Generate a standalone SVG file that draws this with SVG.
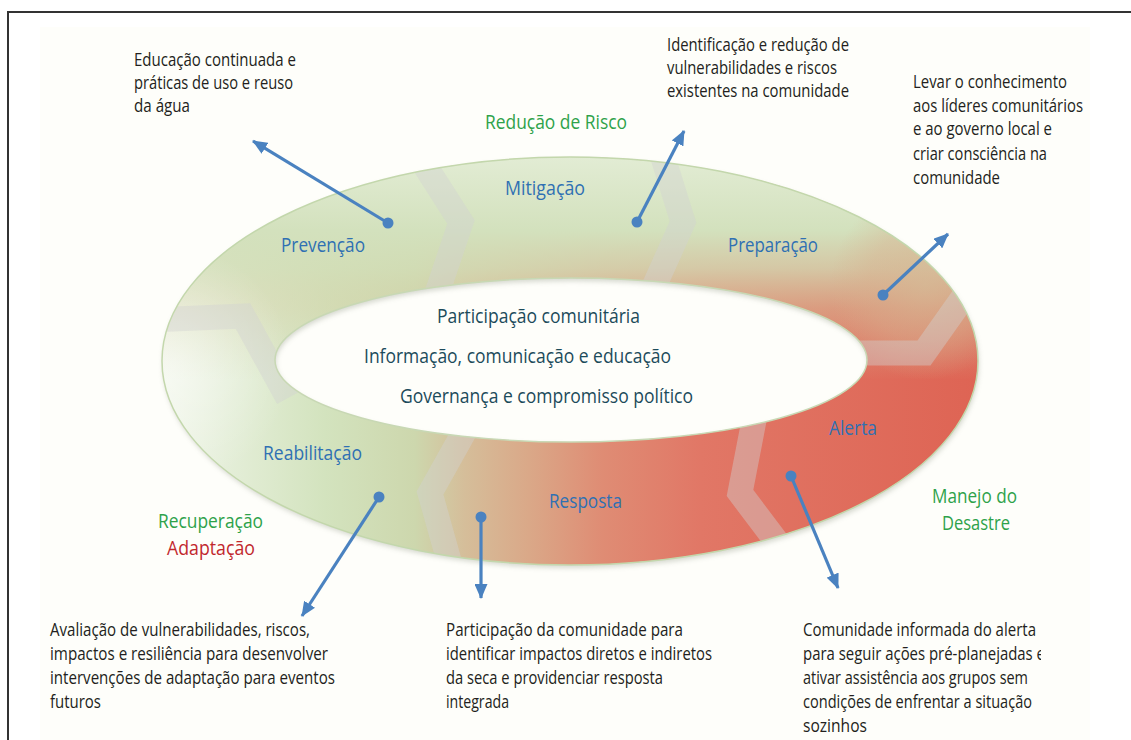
<svg xmlns="http://www.w3.org/2000/svg" width="1131" height="740" viewBox="0 0 1131 740">
<style>
.ann{font-family:"Open Sans","Noto Sans","Liberation Sans",sans-serif;font-size:18px;fill:#231f20}
.lbl{font-family:"Open Sans","Noto Sans","Liberation Sans",sans-serif;font-size:20.5px}
.blue{fill:#2f70b3}
.green{fill:#2ea24a}
.red{fill:#c1272d}
.core{fill:#1c4b5a}
.arrow{stroke:#4a82c0;stroke-width:3.2;fill:none}
.dot{fill:#4a82c0}
.chev{fill:none;stroke:#d2d2d2;stroke-opacity:0.42;stroke-width:25;stroke-linejoin:miter;stroke-miterlimit:10}
</style>
<defs>
<linearGradient id="base" gradientUnits="userSpaceOnUse" x1="162" y1="0" x2="978" y2="0">
<stop offset="0" stop-color="#f1f6ea"/>
<stop offset="0.08" stop-color="#e4eed8"/>
<stop offset="0.2" stop-color="#d3e3be"/>
<stop offset="0.31" stop-color="#cdd7ad"/>
<stop offset="0.37" stop-color="#d5be9a"/>
<stop offset="0.45" stop-color="#daa888"/>
<stop offset="0.54" stop-color="#df8c74"/>
<stop offset="0.66" stop-color="#e17766"/>
<stop offset="1" stop-color="#de6454"/>
</linearGradient>
<linearGradient id="over" gradientUnits="userSpaceOnUse" x1="0" y1="157" x2="0" y2="380">
<stop offset="0" stop-color="#e2ecd4" stop-opacity="1"/>
<stop offset="0.33" stop-color="#d3e1bd" stop-opacity="1"/>
<stop offset="0.5" stop-color="#d2ddb6" stop-opacity="0.8"/>
<stop offset="0.68" stop-color="#d4d2a8" stop-opacity="0.45"/>
<stop offset="1" stop-color="#d4d2a8" stop-opacity="0"/>
</linearGradient>
<radialGradient id="tan" gradientUnits="userSpaceOnUse" cx="925" cy="285" r="95">
<stop offset="0" stop-color="#d6b894" stop-opacity="0.7"/>
<stop offset="0.6" stop-color="#d8b08e" stop-opacity="0.4"/>
<stop offset="1" stop-color="#d8b08e" stop-opacity="0"/>
</radialGradient>
<radialGradient id="hl" gradientUnits="userSpaceOnUse" cx="172" cy="365" r="120">
<stop offset="0" stop-color="#ffffff" stop-opacity="0.45"/>
<stop offset="1" stop-color="#ffffff" stop-opacity="0"/>
</radialGradient>
<clipPath id="ringclip">
<path clip-rule="evenodd" d="M162,361 a408,204 0 1,0 816,0 a408,204 0 1,0 -816,0 Z M275,360 a296,82 0 1,0 592,0 a296,82 0 1,0 -592,0 Z"/>
</clipPath>
<clipPath id="cutR"><rect x="0" y="0" width="1041" height="740"/></clipPath>
<filter id="sh" x="-10%" y="-10%" width="120%" height="130%">
<feGaussianBlur stdDeviation="2.5"/>
</filter>
<marker id="ah" markerUnits="userSpaceOnUse" markerWidth="15" markerHeight="13" refX="14" refY="6.5" orient="auto">
<path d="M0,0 L15,6.5 L0,13 Z" fill="#4a82c0"/>
</marker>
</defs>

<rect x="0" y="0" width="1131" height="740" fill="#ffffff"/>
<rect x="40" y="27" width="1050" height="713" fill="#fefefa"/>
<path d="M8,740 L8,12 L1131,12" fill="none" stroke="#333333" stroke-width="2"/>

<g id="ring">
<path fill-rule="evenodd" fill="#9aa090" opacity="0.4" filter="url(#sh)" transform="translate(1,3)" d="M162,361 a408,204 0 1,0 816,0 a408,204 0 1,0 -816,0 Z M275,360 a296,82 0 1,0 592,0 a296,82 0 1,0 -592,0 Z"/>
<g clip-path="url(#ringclip)">
<rect x="150" y="150" width="840" height="430" fill="url(#base)"/>
<rect x="150" y="150" width="840" height="430" fill="url(#over)"/>
<rect x="150" y="150" width="840" height="430" fill="url(#tan)"/>
<rect x="150" y="150" width="840" height="430" fill="url(#hl)"/>
<polyline class="chev" points="415,150 461,222 433,305"/>
<polyline class="chev" points="660,148 683,222 648,300"/>
<polyline class="chev" points="845,353 924,353 972,285"/>
<polyline class="chev" points="757,405 740,493 792,562"/>
<polyline class="chev" points="472,418 430,493 455,582"/>
<polyline class="chev" points="150,320 243,316 288,398"/>
</g>
<ellipse cx="570" cy="361" rx="408" ry="204" fill="none" stroke="#c3d7ac" stroke-width="1.5"/>
<ellipse cx="571" cy="360" rx="296" ry="82" fill="none" stroke="#c8d8b4" stroke-width="1.5"/>
</g>

<g id="connectors">
<line class="arrow" x1="388" y1="223" x2="253" y2="141" marker-end="url(#ah)"/>
<circle class="dot" cx="388" cy="223" r="5.5"/>
<line class="arrow" x1="637" y1="222" x2="684" y2="131" marker-end="url(#ah)"/>
<circle class="dot" cx="637" cy="222" r="5.5"/>
<line class="arrow" x1="883" y1="295" x2="948" y2="234" marker-end="url(#ah)"/>
<circle class="dot" cx="883" cy="295" r="5.5"/>
<line class="arrow" x1="791" y1="476" x2="838" y2="588" marker-end="url(#ah)"/>
<circle class="dot" cx="791" cy="476" r="5.5"/>
<line class="arrow" x1="379" y1="497" x2="302" y2="616" marker-end="url(#ah)"/>
<circle class="dot" cx="379" cy="497" r="5.5"/>
<line class="arrow" x1="481" y1="517" x2="481" y2="598" marker-end="url(#ah)"/>
<circle class="dot" cx="481" cy="517" r="5.5"/>
</g>

<g id="center-text">
<text class="lbl core" x="437" y="323" textLength="203" lengthAdjust="spacingAndGlyphs">Participação comunitária</text>
<text class="lbl core" x="364" y="363" textLength="307" lengthAdjust="spacingAndGlyphs">Informação, comunicação e educação</text>
<text class="lbl core" x="400" y="403" textLength="293" lengthAdjust="spacingAndGlyphs">Governança e compromisso político</text>
</g>

<g id="stage-reducao"><text class="lbl green" x="485" y="129" textLength="142" lengthAdjust="spacingAndGlyphs">Redução de Risco</text></g>
<g id="stage-mitigacao"><text class="lbl blue" x="505" y="195" textLength="80" lengthAdjust="spacingAndGlyphs">Mitigação</text></g>
<g id="stage-prevencao"><text class="lbl blue" x="281" y="252" textLength="84" lengthAdjust="spacingAndGlyphs">Prevenção</text></g>
<g id="stage-preparacao"><text class="lbl blue" x="728" y="252" textLength="90" lengthAdjust="spacingAndGlyphs">Preparação</text></g>
<g id="stage-alerta"><text class="lbl blue" x="829" y="435" textLength="48" lengthAdjust="spacingAndGlyphs">Alerta</text></g>
<g id="stage-reabilitacao"><text class="lbl blue" x="263" y="460" textLength="99" lengthAdjust="spacingAndGlyphs">Reabilitação</text></g>
<g id="stage-resposta"><text class="lbl blue" x="549" y="508" textLength="73" lengthAdjust="spacingAndGlyphs">Resposta</text></g>
<g id="stage-recuperacao">
<text class="lbl green" x="158" y="528" textLength="105" lengthAdjust="spacingAndGlyphs">Recuperação</text>
<text class="lbl red" x="167" y="555" textLength="88" lengthAdjust="spacingAndGlyphs">Adaptação</text>
</g>
<g id="stage-manejo">
<text class="lbl green" x="932" y="503" textLength="85" lengthAdjust="spacingAndGlyphs">Manejo do</text>
<text class="lbl green" x="942" y="530" textLength="68" lengthAdjust="spacingAndGlyphs">Desastre</text>
</g>

<g id="note-prevencao">
<text class="ann" x="134" y="66" textLength="162" lengthAdjust="spacingAndGlyphs">Educação continuada e</text>
<text class="ann" x="134" y="89" textLength="159" lengthAdjust="spacingAndGlyphs">práticas de uso e reuso</text>
<text class="ann" x="134" y="112" textLength="56" lengthAdjust="spacingAndGlyphs">da água</text>
</g>
<g id="note-mitigacao">
<text class="ann" x="667" y="51" textLength="182" lengthAdjust="spacingAndGlyphs">Identificação e redução de</text>
<text class="ann" x="667" y="74" textLength="170" lengthAdjust="spacingAndGlyphs">vulnerabilidades e riscos</text>
<text class="ann" x="667" y="97" textLength="182" lengthAdjust="spacingAndGlyphs">existentes na comunidade</text>
</g>
<g id="note-preparacao">
<text class="ann" x="913" y="88" textLength="154" lengthAdjust="spacingAndGlyphs">Levar o conhecimento</text>
<text class="ann" x="913" y="112" textLength="170" lengthAdjust="spacingAndGlyphs">aos líderes comunitários</text>
<text class="ann" x="913" y="135" textLength="139" lengthAdjust="spacingAndGlyphs">e ao governo local e</text>
<text class="ann" x="913" y="160" textLength="134" lengthAdjust="spacingAndGlyphs">criar consciência na</text>
<text class="ann" x="913" y="184" textLength="87" lengthAdjust="spacingAndGlyphs">comunidade</text>
</g>
<g id="note-reabilitacao">
<text class="ann" x="50" y="636" textLength="260" lengthAdjust="spacingAndGlyphs">Avaliação de vulnerabilidades, riscos,</text>
<text class="ann" x="50" y="660" textLength="278" lengthAdjust="spacingAndGlyphs">impactos e resiliência para desenvolver</text>
<text class="ann" x="50" y="684" textLength="285" lengthAdjust="spacingAndGlyphs">intervenções de adaptação para eventos</text>
<text class="ann" x="50" y="708" textLength="51" lengthAdjust="spacingAndGlyphs">futuros</text>
</g>
<g id="note-resposta">
<text class="ann" x="446" y="636" textLength="237" lengthAdjust="spacingAndGlyphs">Participação da comunidade para</text>
<text class="ann" x="446" y="660" textLength="266" lengthAdjust="spacingAndGlyphs">identificar impactos diretos e indiretos</text>
<text class="ann" x="446" y="684" textLength="217" lengthAdjust="spacingAndGlyphs">da seca e providenciar resposta</text>
<text class="ann" x="446" y="708" textLength="63" lengthAdjust="spacingAndGlyphs">integrada</text>
</g>
<g id="note-alerta">
<text class="ann" x="803" y="636" textLength="233" lengthAdjust="spacingAndGlyphs">Comunidade informada do alerta</text>
<text class="ann" x="803" y="660" textLength="242" lengthAdjust="spacingAndGlyphs" clip-path="url(#cutR)">para seguir ações pré-planejadas e</text>
<text class="ann" x="803" y="684" textLength="225" lengthAdjust="spacingAndGlyphs">ativar assistência aos grupos sem</text>
<text class="ann" x="803" y="708" textLength="229" lengthAdjust="spacingAndGlyphs">condições de enfrentar a situação</text>
<text class="ann" x="803" y="732" textLength="64" lengthAdjust="spacingAndGlyphs">sozinhos</text>
</g>
</svg>
